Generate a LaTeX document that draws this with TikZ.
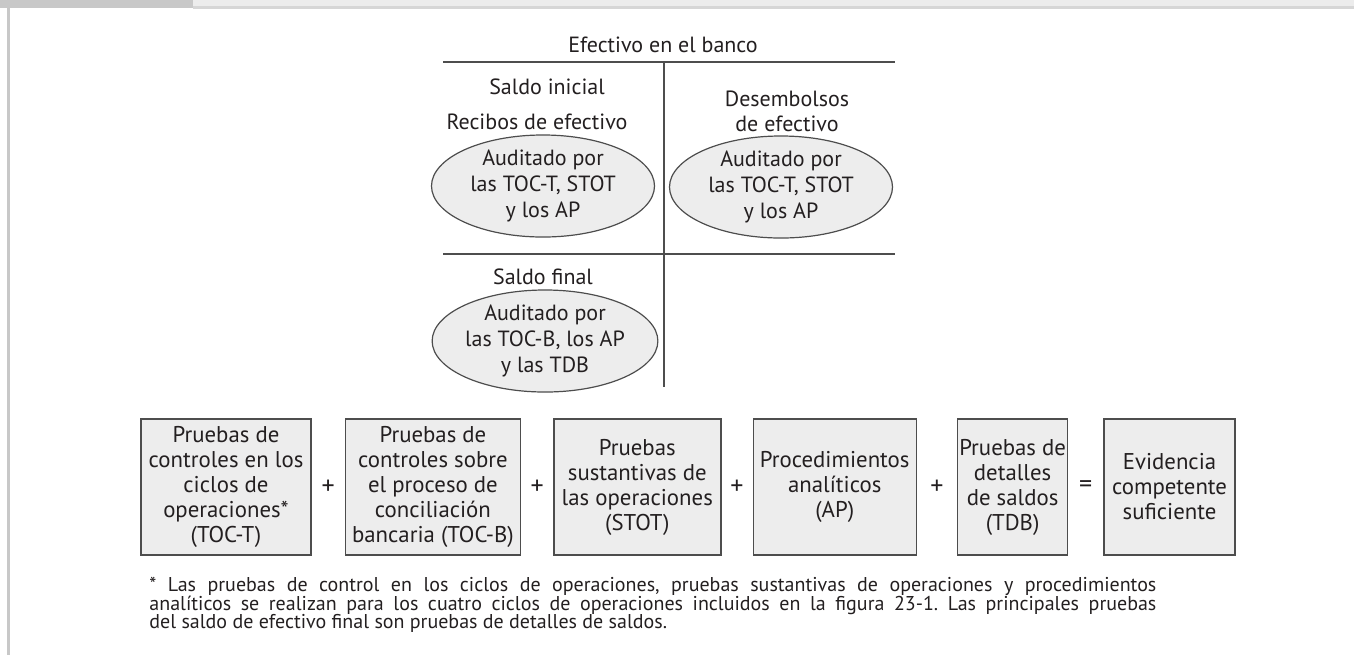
\documentclass[tikz,border=0pt]{standalone}
\usepackage{fontspec}
\setmainfont{PT Sans}
\usetikzlibrary{positioning,shapes.geometric,calc}
\definecolor{cuadrogris}{HTML}{EDEDED}
\definecolor{bordegris}{HTML}{4D4D4D}
\definecolor{margengris}{HTML}{C8C8C8}
\definecolor{franjagris}{HTML}{ECECEC}
\definecolor{lineagris}{HTML}{D6D6D6}
\definecolor{tinta}{HTML}{231F20}
\tikzset{
  cuenta/.style={font=\fontsize{11}{12.5}\selectfont, text=tinta, align=center, inner sep=0pt},
  auditado/.style={ellipse, draw=bordegris, fill=cuadrogris, line width=0.6pt, inner sep=0pt, align=center, text=tinta, font=\fontsize{11}{13}\selectfont},
  prueba/.style={draw=bordegris, fill=cuadrogris, line width=0.7pt, align=center, minimum height=68pt, inner sep=0pt, text=tinta, font=\fontsize{11.4}{12.5}\selectfont},
  signo/.style={font=\fontsize{13}{13}\selectfont, text=tinta, inner sep=0pt},
  nota/.style={font=\fontsize{10}{9.25}\selectfont\frenchspacing, text=tinta, align=justify, text width=503.5pt, inner sep=0pt},
  raya/.style={draw=bordegris, line width=0.75pt}
}

\begin{document}
\begin{tikzpicture}[x=0.5pt, y=-0.5pt]
  \useasboundingbox (0,0) rectangle (1354,655);
  % marco de la pagina
  \fill[margengris] (0,0) rectangle (193,8);
  \fill[franjagris] (193,0) rectangle (1354,6);
  \fill[lineagris] (193,6) rectangle (1354,9);
  \fill[margengris] (7,8) rectangle (10,655);

  % cuenta T
  \node[cuenta] (titulo) at (663,45) {Efectivo en el banco};
  \coordinate (ti) at (443,62);
  \coordinate (td) at (895,62);
  \coordinate (tv) at (664,62);
  \coordinate (tb) at (664,387);
  \coordinate (mi) at (443,254);
  \coordinate (md) at (895,254);
  \draw[raya] (ti) -- (td);
  \draw[raya] (tv) -- (tb);
  \draw[raya] (mi) -- (md);

  \node[cuenta] (inicial) at (547,87) {Saldo inicial};
  \node[cuenta] (recibos) at (537,122) {Recibos de efectivo};
  \node[cuenta] (desemb) at (787,111) {Desembolsos\\de efectivo};
  \node[cuenta] (final) at (543,277) {Saldo final};

  \node[auditado, minimum width=111.5pt, minimum height=44pt] (e1) at (543,186) {Auditado por\\las TOC-T, STOT\\y los AP};
  \node[auditado, minimum width=111.5pt, minimum height=44pt] (e2) at (781,187) {Auditado por\\las TOC-T, STOT\\y los AP};
  \node[auditado, minimum width=110pt, minimum height=46pt] (e3) at (545,341) {Auditado por\\las TOC-B, los AP\\y las TDB};

  % pruebas
  \node[prueba, minimum width=85pt] (b1) at (226,487) {Pruebas de\\controles en los\\ciclos de\\operaciones*\\(TOC-T)};
  \node[prueba, minimum width=87.5pt, right=16.5pt of b1] (b2) {Pruebas de\\controles sobre\\el proceso de\\conciliación\\bancaria (TOC-B)};
  \node[prueba, minimum width=83.5pt, right=16pt of b2] (b3) {Pruebas\\sustantivas de\\las operaciones\\(STOT)};
  \node[prueba, minimum width=81.5pt, right=15.5pt of b3] (b4) {Procedimientos\\analíticos\\(AP)};
  \node[prueba, minimum width=55pt, right=20pt of b4] (b5) {Pruebas de\\detalles\\de saldos\\(TDB)};
  \node[prueba, minimum width=65.5pt, right=17.5pt of b5] (b6) {Evidencia\\competente\\suficiente};

  \node[signo] (s1) at ($(b1.east)!0.5!(b2.west)$) {+};
  \node[signo] (s2) at ($(b2.east)!0.5!(b3.west)$) {+};
  \node[signo] (s3) at ($(b3.east)!0.5!(b4.west)$) {+};
  \node[signo] (s4) at ($(b4.east)!0.5!(b5.west)$) {+};
  \node[signo] (s5) at ($(b5.east)!0.5!(b6.west)$) {=};

  \node[nota, anchor=north west] (pie) at (149,577) {* Las pruebas de control en los ciclos de operaciones, pruebas sustantivas de operaciones y procedimientos\linebreak
  analíticos se realizan para los cuatro ciclos de operaciones incluidos en la figura 23-1. Las principales pruebas\linebreak
  del saldo de efectivo final son pruebas de detalles de saldos.};
\end{tikzpicture}
\end{document}
